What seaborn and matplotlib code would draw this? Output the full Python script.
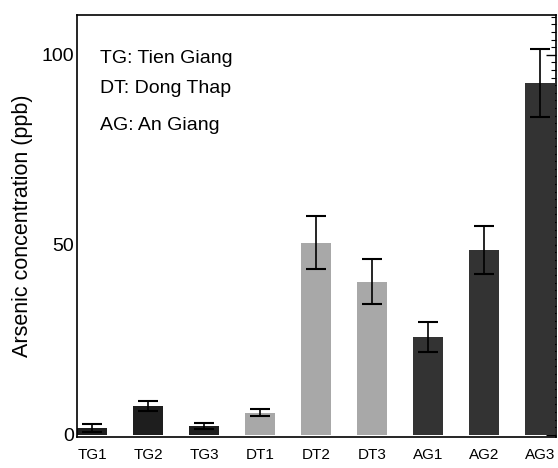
import matplotlib
matplotlib.use("Agg")
import matplotlib.pyplot as plt
import seaborn as sns
import pandas as pd
import numpy as np
from matplotlib.ticker import MultipleLocator

sites = ["TG1", "TG2", "TG3", "DT1", "DT2", "DT3", "AG1", "AG2", "AG3"]
arsenic = [1.8, 7.6, 2.4, 5.8, 50.5, 40.3, 25.8, 48.7, 92.6]
errors = [1.1, 1.4, 0.8, 1.0, 7.0, 6.0, 4.0, 6.3, 9.0]
colors = ["#1e1e1e", "#1e1e1e", "#1e1e1e", "#a8a8a8", "#a8a8a8", "#a8a8a8",
          "#333333", "#333333", "#333333"]
legend_lines = ["TG: Tien Giang", "DT: Dong Thap", "AG: An Giang"]

df = pd.DataFrame({"site": sites, "arsenic": arsenic})

sns.set_style("white")
plt.rcParams['font.family'] = ['Liberation Sans', 'DejaVu Sans']
plt.rcParams.update({"text.color": "black", "axes.labelcolor": "black",
                     "xtick.color": "black", "ytick.color": "black"})

fig = plt.figure(figsize=(5.58, 4.68), dpi=100)
ax = fig.add_axes([77/558, 1 - 437/468, (556-77)/558, (437-15)/468])

sns.barplot(data=df, x="site", y="arsenic", hue="site", palette=colors,
            legend=False, width=0.54, ax=ax, saturation=1, edgecolor="none")
ax.errorbar(np.arange(len(sites)), arsenic, yerr=errors, fmt="none",
            ecolor="black", elinewidth=1.2, capsize=7, capthick=1.5)

ax.set_xlim(-0.27, 8.29)
ax.set_ylim(-0.6, 110.5)
ax.yaxis.set_major_locator(MultipleLocator(50))
ax.yaxis.set_minor_locator(MultipleLocator(2))
ax.tick_params(axis="y", which="major", direction="in", length=7, width=1,
               right=True, labelsize=14, pad=2, colors="black")
ax.tick_params(axis="y", which="minor", direction="in", length=3.5, width=0.8,
               right=True, colors="black")
ax.tick_params(axis="x", length=0, labelsize=11, pad=8, colors="black")
ax.set_xlabel("")
ax.set_ylabel("Arsenic concentration (ppb)", fontsize=15.5, labelpad=6,
              color="black")

for s in ax.spines.values():
    s.set_color("black")
    s.set_linewidth(1.2)

text_y = [0.898, 0.825, 0.737]
for t, yy in zip(legend_lines, text_y):
    ax.text(0.048, yy, t, transform=ax.transAxes, color="black",
            fontsize=14, va="center", ha="left")

fig.savefig("out.png", dpi=100)
